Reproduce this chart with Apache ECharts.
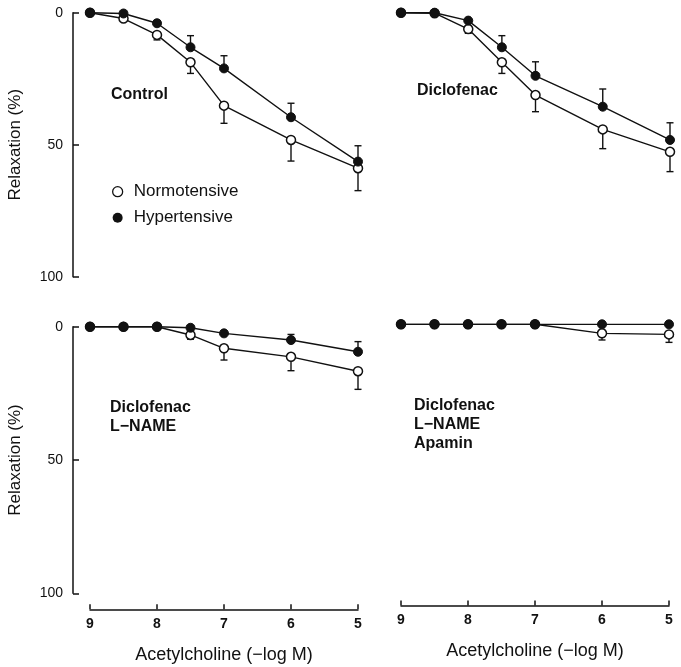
<!DOCTYPE html>
<html>
<head>
<meta charset="utf-8">
<script src="https://cdn.jsdelivr.net/npm/echarts@6/dist/echarts.min.js"></script>
<style>html,body{margin:0;padding:0;background:#fff;}#c{width:681px;height:667px;}</style>
</head>
<body>
<div id="c"></div>
<script>
// Acetylcholine dose (-log M)
const doses = [9, 8.5, 8, 7.5, 7, 6, 5];
const xTicks = [9, 8, 7, 6, 5];
const yTicks = [0, 50, 100];
const panelLabels = ['Control', 'Diclofenac', 'Diclofenac\nL\u2212NAME', 'Diclofenac\nL\u2212NAME\nApamin'];
const seriesNames = ['Normotensive', 'Hypertensive'];

// Control
const controlNormo   = [0, 2.2, 8.4, 18.8, 35.2, 48.2, 58.9];
const controlNormoSE = [0, 0, 1.9, 4.2, 6.7, 8.0, 8.5];
const controlHyper   = [0, 0.3, 4.0, 13.1, 21.1, 39.6, 56.4];
const controlHyperSE = [0, 0, 1.0, 4.4, 4.8, 5.3, 6.0];

// Diclofenac
const diclNormo   = [0, 0.2, 6.2, 18.8, 31.2, 44.2, 52.7];
const diclNormoSE = [0, 0, 1.6, 4.2, 6.3, 7.3, 7.5];
const diclHyper   = [0, 0, 3.0, 13.1, 23.9, 35.6, 48.2];
const diclHyperSE = [0, 0, 0.5, 4.4, 5.3, 6.7, 6.5];

// Diclofenac + L-NAME
const lnameNormo   = [0, 0, 0, 3.1, 8.1, 11.3, 16.7];
const lnameNormoSE = [0, 0, 0, 1.6, 4.4, 5.2, 6.8];
const lnameHyper   = [0, 0, 0, 0.4, 2.5, 5.0, 9.4];
const lnameHyperSE = [0, 0, 0, 0, 1.0, 2.1, 3.8];

// Diclofenac + L-NAME + Apamin
const apaNormo   = [0, 0, 0, 0, 0, 3.4, 3.8];
const apaNormoSE = [0, 0, 0, 0, 0, 2.5, 3.0];
const apaHyper   = [0, 0, 0, 0, 0, 0, 0];
const apaHyperSE = [0, 0, 0, 0, 0, 0, 0];

const panels = [
  {normo: controlNormo, normoSE: controlNormoSE, hyper: controlHyper, hyperSE: controlHyperSE},
  {normo: diclNormo, normoSE: diclNormoSE, hyper: diclHyper, hyperSE: diclHyperSE},
  {normo: lnameNormo, normoSE: lnameNormoSE, hyper: lnameHyper, hyperSE: lnameHyperSE},
  {normo: apaNormo, normoSE: apaNormoSE, hyper: apaHyper, hyperSE: apaHyperSE}
];

const FONT = 'Liberation Sans, Arial, Helvetica, sans-serif';
const grids = [
  {left: 90, top: 12.7, width: 268, height: 264},
  {left: 401, top: 12.7, width: 269, height: 264},
  {left: 90, top: 326.7, width: 268, height: 266.6},
  {left: 401, top: 324.3, width: 268, height: 265.7}
];
const labelPos = [[111, 85], [417, 81.5], [110, 398.5], [414, 396.5]];

const xAxes = grids.map((g, i) => {
  const bottom = i >= 2;
  return {
    gridIndex: i, type: 'value', min: 5, max: 9, interval: 1, inverse: true,
    show: bottom, position: 'bottom',
    offset: i === 2 ? 16 : 15.5,
    name: bottom ? 'Acetylcholine (\u2212log M)' : '',
    nameLocation: 'middle', nameGap: 37,
    nameTextStyle: {fontFamily: FONT, fontSize: 18, color: '#111'},
    axisLine: {show: true, onZero: false, lineStyle: {color: '#111', width: 1.5}},
    axisTick: {show: true, inside: true, length: 5, lineStyle: {color: '#111', width: 1.5}},
    axisLabel: {show: true, fontFamily: FONT, fontSize: 14, fontWeight: 'bold', color: '#111', margin: 8,
      formatter: v => xTicks.includes(v) ? String(v) : ''},
    splitLine: {show: false}
  };
});

const yAxes = grids.map((g, i) => {
  const left = (i === 0 || i === 2);
  return {
    gridIndex: i, type: 'value', min: 0, max: 100, interval: 50, inverse: true,
    show: left, position: 'left',
    offset: 17,
    name: left ? 'Relaxation (%)' : '',
    nameLocation: 'middle', nameGap: 49, nameRotate: 90,
    nameTextStyle: {fontFamily: FONT, fontSize: 17, color: '#111'},
    axisLine: {show: true, onZero: false, lineStyle: {color: '#111', width: 1.5}},
    axisTick: {show: true, inside: true, length: 6, lineStyle: {color: '#111', width: 1.5}},
    axisLabel: {show: true, fontFamily: FONT, fontSize: 14, color: '#111', margin: 10,
      formatter: v => yTicks.includes(v) ? String(v) : ''},
    splitLine: {show: false}
  };
});

function errData(vals, se, sign) {
  return doses.map((d, k) => [d, vals[k], vals[k] + sign * se[k]]);
}
function renderErr(params, api) {
  const x = api.value(0), y = api.value(1), e = api.value(2);
  if (Math.abs(e - y) < 0.05) return null;
  const p0 = api.coord([x, y]);
  const p1 = api.coord([x, e]);
  const w = 3.5;
  const st = {stroke: '#111', lineWidth: 1.4};
  return {type: 'group', children: [
    {type: 'line', shape: {x1: p0[0], y1: p0[1], x2: p1[0], y2: p1[1]}, style: st},
    {type: 'line', shape: {x1: p1[0] - w, y1: p1[1], x2: p1[0] + w, y2: p1[1]}, style: st}
  ]};
}

const series = [];
panels.forEach((p, i) => {
  series.push({type: 'custom', xAxisIndex: i, yAxisIndex: i, z: 1, silent: true,
    renderItem: renderErr, data: errData(p.normo, p.normoSE, 1), encode: {x: 0, y: 1}});
  series.push({type: 'custom', xAxisIndex: i, yAxisIndex: i, z: 1, silent: true,
    renderItem: renderErr, data: errData(p.hyper, p.hyperSE, -1), encode: {x: 0, y: 1}});
  series.push({name: seriesNames[0], type: 'line', xAxisIndex: i, yAxisIndex: i, z: 2,
    data: doses.map((d, k) => [d, p.normo[k]]),
    symbol: 'circle', symbolSize: 9, showAllSymbol: true,
    lineStyle: {color: '#111', width: 1.4},
    itemStyle: {color: '#fff', borderColor: '#111', borderWidth: 1.5}});
  series.push({name: seriesNames[1], type: 'line', xAxisIndex: i, yAxisIndex: i, z: 3,
    data: doses.map((d, k) => [d, p.hyper[k]]),
    symbol: 'circle', symbolSize: 9, showAllSymbol: true,
    lineStyle: {color: '#111', width: 1.4},
    itemStyle: {color: '#111', borderColor: '#111', borderWidth: 1}});
});

const graphics = panelLabels.map((t, i) => ({
  type: 'text', x: labelPos[i][0], y: labelPos[i][1], silent: true,
  style: {text: t, fill: '#111', font: 'bold 16px ' + FONT, lineHeight: 18.7, verticalAlign: 'top'}
}));

const chart = echarts.init(document.getElementById('c'), null, {renderer: 'canvas'});
chart.setOption({
  backgroundColor: '#fff',
  animation: false,
  grid: grids,
  xAxis: xAxes,
  yAxis: yAxes,
  legend: {
    left: 112, top: 181.7, orient: 'vertical', padding: 0, itemGap: 6,
    itemWidth: 10, itemHeight: 10, selectedMode: false,
    textStyle: {fontFamily: FONT, fontSize: 17, color: '#111', lineHeight: 20, padding: [0, 0, 0, 6]},
    data: [
      {name: seriesNames[0], icon: 'circle', itemStyle: {color: '#fff', borderColor: '#111', borderWidth: 1.3}},
      {name: seriesNames[1], icon: 'circle', itemStyle: {color: '#111', borderColor: '#111', borderWidth: 0}}
    ]
  },
  graphic: graphics,
  series: series
});
</script>
</body>
</html>
